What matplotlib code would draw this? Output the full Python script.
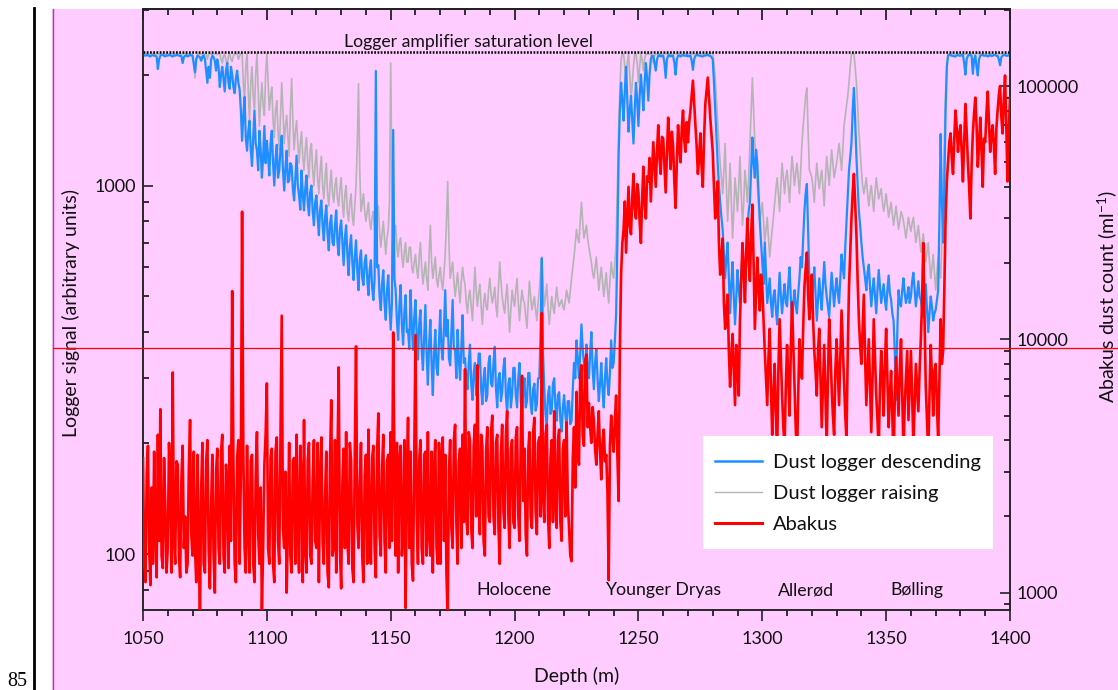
import numpy as np
import matplotlib
matplotlib.use("Agg")
import matplotlib.pyplot as plt
from matplotlib.lines import Line2D
from matplotlib.patches import Rectangle
from matplotlib.ticker import MultipleLocator, LogLocator, NullFormatter, FuncFormatter
import matplotlib.transforms as mtransforms

# ---------------- data ----------------
depth = np.arange(1050, 1400.5, 0.5)   # m, 0.5 m steps (all three series)

logger_descending = [
    2260, 2255, 2250, 2260, 2260, 2245, 2240, 2255, 2260, 2250, 2250, 2240, 2070, 2200, 2250, 2260, 2260, 2250, 2240, 2255,
    2250, 2260, 2260, 2245, 2240, 2255, 2250, 2260, 2260, 2250, 2250, 2245, 2150, 2230, 2250, 2260, 2240, 2250, 2260, 2255,
    2250, 2140, 2030, 2200, 2250, 2240, 2230, 2180, 2240, 2255, 2200, 2050, 1900, 2100, 1960, 2200, 2250, 2230, 2180, 2050,
    2200, 2100, 1850, 2000, 2100, 1950, 1800, 2050, 2150, 1900, 1830, 2100, 2000, 1850, 1780, 1950, 2050, 1900, 1820, 1600,
    1323, 1550, 1740, 1350, 1243, 1400, 1499, 1250, 1130, 1350, 1595, 1300, 1243, 1100, 1408, 1250, 1050, 1200, 1450, 1150,
    1323, 1200, 1065, 1300, 1408, 1150, 1000, 1180, 1290, 1050, 1098, 1250, 1365, 1100, 969, 1120, 1243, 1020, 1031, 1150,
    1130, 980, 911, 1050, 1205, 1000, 940, 860, 1098, 950, 856, 980, 1065, 900, 830, 960, 1000, 850, 780, 900,
    940, 820, 733, 860, 911, 780, 710, 820, 883, 740, 667, 790, 830, 700, 688, 780, 856, 700, 647, 760,
    804, 700, 608, 720, 780, 650, 571, 680, 733, 620, 554, 640, 710, 590, 520, 630, 667, 560, 537, 620,
    647, 560, 504, 590, 627, 530, 489, 560, 2046, 600, 608, 500, 459, 540, 589, 480, 432, 520, 571, 470,
    406, 480, 1415, 560, 520, 430, 381, 470, 537, 420, 370, 450, 504, 400, 406, 360, 520, 420, 358, 440,
    489, 390, 337, 420, 459, 360, 316, 390, 474, 350, 288, 370, 432, 330, 270, 350, 406, 320, 306, 380,
    459, 360, 337, 410, 520, 390, 432, 340, 325, 400, 489, 360, 358, 300, 406, 340, 297, 360, 445, 330,
    340, 300, 280, 330, 370, 290, 262, 310, 330, 270, 295, 350, 350, 280, 255, 300, 320, 260, 270, 330,
    345, 290, 285, 330, 365, 280, 250, 300, 310, 260, 275, 320, 340, 270, 240, 290, 300, 250, 270, 320,
    320, 270, 250, 300, 330, 260, 235, 280, 300, 250, 260, 310, 310, 255, 240, 280, 290, 245, 255, 300,
    300, 400, 635, 350, 280, 240, 225, 270, 285, 240, 245, 290, 300, 250, 230, 270, 275, 230, 215, 250,
    270, 240, 220, 260, 260, 225, 230, 280, 330, 300, 380, 340, 300, 350, 420, 360, 330, 290, 370, 320,
    300, 350, 400, 320, 280, 330, 360, 300, 260, 290, 330, 280, 250, 300, 340, 290, 270, 310, 380, 320,
    330, 380, 450, 700, 1200, 1600, 1900, 1700, 1500, 1800, 2100, 1700, 1400, 1600, 1750, 1500, 1300, 1600, 1900, 1700,
    1450, 1750, 2000, 1800, 1600, 1900, 2150, 1950, 1700, 2000, 2200, 2250, 2250, 2150, 2050, 2200, 2250, 2260, 2240, 2250,
    2250, 2150, 1960, 2200, 2250, 2260, 2240, 2250, 2250, 2150, 2000, 2200, 2250, 2255, 2240, 2250, 2260, 2250, 2250, 2260,
    2240, 2250, 2250, 2180, 2060, 2200, 2250, 2260, 2260, 2250, 2250, 2240, 2240, 2255, 2250, 2260, 2260, 2250, 2250, 2230,
    2200, 1900, 1600, 1350, 1150, 1000, 900, 820, 760, 650, 560, 640, 700, 560, 450, 540, 620, 500, 420, 500,
    590, 520, 480, 580, 640, 560, 500, 620, 760, 850, 900, 1100, 1350, 1150, 1050, 1250, 1150, 950, 800, 700,
    620, 540, 700, 580, 480, 520, 560, 480, 440, 500, 520, 460, 420, 500, 580, 500, 450, 500, 540, 480,
    470, 540, 600, 500, 430, 480, 520, 470, 450, 510, 560, 640, 600, 720, 850, 950, 1010, 750, 560, 500,
    480, 540, 600, 510, 430, 490, 560, 500, 460, 540, 620, 540, 500, 470, 440, 510, 580, 520, 470, 520,
    560, 510, 480, 560, 650, 600, 560, 680, 800, 950, 1100, 1200, 1300, 1600, 1840, 1500, 1200, 1000, 850, 780,
    700, 640, 600, 560, 520, 580, 610, 530, 470, 520, 560, 500, 450, 520, 590, 530, 480, 510, 540, 490,
    460, 520, 570, 510, 490, 450, 430, 350, 262, 400, 520, 480, 470, 520, 560, 510, 480, 500, 530, 480,
    500, 550, 580, 520, 470, 510, 550, 500, 490, 460, 440, 500, 540, 460, 400, 450, 500, 470, 430, 450,
    460, 490, 520, 800, 1380, 900, 700, 1000, 1600, 2100, 2250, 2260, 2260, 2250, 2250, 2240, 2240, 2255, 2260, 2250,
    2250, 2260, 2260, 2150, 2000, 2200, 2250, 2260, 2260, 2250, 2010, 2200, 2250, 2100, 1990, 2200, 2250, 2260, 2260, 2250,
    2250, 2255, 2240, 2250, 2260, 2245, 2250, 2260, 2260, 2250, 2250, 2200, 2120, 2230, 2250, 2260, 2260, 2250, 2250, 2255,
    2260,
]

logger_raising = [
    2280, 2275, 2270, 2280, 2280, 2270, 2275, 2280, 2280, 2275, 2270, 2280, 2280, 2270, 2275, 2280, 2280, 2270, 2270, 2280,
    2280, 2270, 2275, 2280, 2270, 2275, 2280, 2270, 2275, 2280, 2280, 2270, 2270, 2280, 2280, 2275, 2275, 2280, 2280, 2270,
    2270, 2150, 1960, 2200, 2280, 2275, 2270, 2280, 2280, 2270, 2275, 2280, 2200, 2270, 2280, 2275, 2270, 2280, 2280, 2270,
    2270, 2280, 2280, 2200, 2150, 2250, 2270, 2180, 2100, 2250, 2280, 2200, 2170, 2250, 2270, 2280, 2280, 2200, 2250, 2280,
    2280, 1900, 1700, 2100, 2280, 1800, 1500, 1900, 2100, 1750, 1600, 2000, 2280, 1800, 1450, 1700, 1900, 1650, 1550, 2000,
    2280, 1900, 1600, 1750, 1850, 1500, 1350, 1600, 1700, 1400, 1250, 1550, 1900, 1600, 1300, 1450, 1550, 1350, 1200, 1600,
    1950, 1500, 1250, 1400, 1500, 1300, 1150, 1300, 1400, 1200, 1100, 1250, 1350, 1150, 1050, 1250, 1300, 1100, 1000, 1150,
    1250, 1050, 950, 1100, 1200, 1000, 920, 1050, 1150, 950, 880, 1000, 1100, 950, 900, 1000, 1050, 920, 880, 980,
    1050, 900, 820, 950, 1000, 850, 800, 900, 950, 820, 780, 880, 1000, 1300, 1890, 1100, 850, 900, 950, 850,
    800, 850, 900, 800, 760, 820, 850, 760, 700, 800, 880, 750, 680, 740, 800, 720, 650, 720, 760, 900,
    2150, 1000, 700, 740, 780, 680, 640, 700, 720, 640, 600, 660, 700, 620, 620, 680, 680, 600, 580, 620,
    650, 590, 560, 640, 700, 600, 540, 580, 620, 560, 520, 650, 780, 620, 560, 600, 640, 560, 530, 570,
    600, 550, 520, 580, 650, 800, 1025, 700, 560, 590, 620, 550, 500, 540, 580, 520, 480, 550, 600, 560,
    540, 480, 450, 500, 520, 470, 430, 510, 600, 520, 470, 510, 540, 470, 420, 480, 510, 470, 460, 520,
    560, 510, 480, 500, 530, 470, 440, 530, 620, 550, 500, 470, 450, 500, 540, 460, 400, 460, 520, 490,
    470, 520, 560, 480, 430, 480, 520, 490, 480, 440, 410, 480, 550, 500, 460, 480, 500, 460, 430, 480,
    520, 580, 640, 540, 470, 500, 540, 470, 420, 460, 500, 470, 450, 490, 530, 490, 470, 480, 490, 470,
    460, 490, 520, 500, 480, 520, 560, 600, 640, 700, 760, 720, 700, 800, 900, 800, 720, 750, 780, 720,
    680, 650, 620, 580, 560, 600, 640, 580, 520, 560, 600, 550, 500, 540, 580, 520, 480, 550, 620, 580,
    560, 620, 700, 1000, 1400, 1800, 2200, 2280, 2280, 2100, 1900, 2150, 2280, 2000, 1700, 1900, 2100, 2280, 2280, 2150,
    1900, 2100, 2280, 2200, 2050, 2200, 2280, 2275, 2270, 2280, 2280, 2200, 2150, 2250, 2280, 2270, 2270, 2280, 2280, 2275,
    2270, 2280, 2280, 2275, 2275, 2280, 2280, 2270, 2270, 2280, 2280, 2275, 2275, 2280, 2280, 2270, 2270, 2280, 2280, 2275,
    2275, 2280, 2280, 2270, 2270, 2280, 2280, 2275, 2275, 2280, 2280, 2270, 2270, 2280, 2280, 2275, 2275, 2280, 2280, 2280,
    2280, 2150, 1950, 1700, 1500, 1300, 1150, 1050, 950, 1100, 1300, 1000, 800, 950, 1150, 900, 720, 850, 1050, 950,
    850, 1000, 1200, 950, 780, 900, 1100, 1000, 900, 1050, 1300, 1600, 1960, 1600, 1300, 1150, 1000, 900, 800, 850,
    900, 800, 700, 760, 820, 720, 640, 700, 760, 820, 900, 980, 1050, 950, 850, 1000, 1150, 1050, 950, 1050,
    1100, 1000, 900, 1050, 1200, 1100, 1000, 1080, 1150, 1050, 950, 1100, 1300, 1450, 1600, 1750, 1840, 1400, 1100, 1080,
    1050, 980, 900, 1030, 1150, 1050, 980, 1050, 1100, 980, 880, 1050, 1200, 1100, 1000, 1120, 1250, 1150, 1050, 1100,
    1150, 1220, 1300, 1200, 1100, 1250, 1450, 1550, 1650, 1750, 1900, 2100, 2270, 2280, 2280, 2100, 1900, 1650, 1400, 1250,
    1100, 1000, 950, 1000, 1050, 950, 880, 950, 1000, 920, 850, 950, 1050, 980, 920, 950, 980, 900, 850, 900,
    950, 880, 820, 860, 900, 840, 780, 830, 880, 820, 760, 800, 850, 830, 800, 760, 720, 770, 820, 780,
    750, 790, 820, 760, 700, 740, 780, 720, 660, 700, 740, 680, 620, 660, 700, 620, 560, 600, 650, 580,
    520, 580, 640, 600, 560, 700, 900, 1300, 1800, 2100, 2280, 2270, 2270, 2280, 2280, 2275, 2270, 2280, 2280, 2275,
    2275, 2280, 2280, 2270, 2270, 2280, 2280, 2275, 2275, 2280, 2280, 2270, 2270, 2280, 2280, 2275, 2275, 2280, 2280, 2270,
    2270, 2280, 2280, 2275, 2275, 2280, 2280, 2270, 2270, 2280, 2280, 2275, 2275, 2280, 2280, 2270, 2270, 2280, 2280, 2275,
    2275,
]

abakus = [
    3400, 1300, 1100, 2900, 3800, 1500, 1070, 2600, 1300, 3600, 1700, 1150, 4200, 1600, 5300, 1400, 1250, 3400, 2200, 1200,
    1500, 3900, 2900, 1200, 7400, 1600, 1300, 3300, 3200, 1400, 1150, 2800, 3800, 1500, 2000, 1200, 1300, 3100, 4800, 1700,
    1400, 3600, 1500, 1100, 3500, 1600, 800, 2600, 3900, 1300, 1200, 3300, 4000, 1500, 1040, 2200, 3500, 1400, 1000, 3000,
    3700, 1500, 1300, 3600, 4200, 1400, 1200, 3200, 2600, 1250, 3800, 1600, 15500, 3300, 1300, 1100, 3400, 4000, 1300, 2900,
    31900, 3600, 1500, 1200, 3800, 1800, 1200, 3300, 3500, 1300, 1100, 2900, 4300, 1700, 1300, 2600, 850, 1500, 3200, 4200,
    6700, 1500, 1300, 3400, 3700, 1300, 1100, 3600, 4100, 1600, 1300, 4200, 12400, 1800, 1500, 3000, 1000, 1800, 3900, 1400,
    1200, 3300, 3400, 1300, 4200, 1900, 1200, 3800, 2800, 1100, 4800, 1500, 1200, 3300, 3900, 1400, 1300, 2800, 4000, 1600,
    1500, 3900, 1100, 2800, 4100, 1600, 1300, 2400, 3600, 1200, 1050, 3300, 5750, 1400, 1500, 4000, 1200, 3300, 7750, 1500,
    1040, 2700, 3700, 1500, 4300, 1600, 1300, 3900, 3300, 1250, 1100, 3500, 9380, 1900, 1500, 2600, 3900, 1400, 1100, 2900,
    3500, 1300, 4400, 1800, 1300, 3400, 3800, 1500, 1150, 3600, 5100, 1700, 1400, 3100, 4200, 1600, 1200, 3300, 3500, 1500,
    4300, 1600, 10650, 3200, 1400, 3900, 1200, 3300, 3800, 1400, 1700, 4000, 870, 2900, 4900, 1500, 3600, 1300, 1115, 3400,
    10400, 2000, 1300, 3300, 4000, 1500, 1300, 3500, 3600, 1400, 4300, 1700, 1400, 3600, 1200, 3100, 4000, 1500, 1300, 3900,
    1300, 3300, 4100, 1600, 3500, 1200, 780, 3000, 4000, 1800, 1500, 4000, 4600, 1900, 1300, 3300, 3700, 1500, 4200, 1900,
    7620, 2000, 1700, 4300, 4000, 1800, 1500, 3800, 4600, 2000, 7900, 2300, 1700, 4200, 3800, 1600, 1400, 3600, 4500, 2000,
    1900, 4300, 5000, 2000, 1700, 3900, 4200, 1800, 1300, 3600, 4600, 2100, 1800, 4200, 5200, 2000, 1500, 3700, 4000, 1900,
    1800, 4100, 4500, 2000, 1600, 4000, 7180, 2300, 3700, 1700, 1400, 3600, 4300, 2000, 1800, 4300, 4900, 2100, 1700, 3900,
    4100, 2000, 12700, 2400, 1900, 4200, 4600, 2000, 1500, 3400, 4000, 1900, 5200, 2300, 1800, 4000, 4400, 1900, 1600, 3700,
    4000, 2000, 4700, 2300, 1800, 1400, 1330, 3400, 4500, 2600, 6200, 3600, 3200, 7200, 7900, 4200, 3800, 8200, 8700, 4500,
    5600, 4500, 3900, 5400, 4800, 3700, 3200, 4200, 5200, 3600, 2800, 3900, 4400, 3300, 3500, 2500, 1120, 3800, 5000, 4100,
    3600, 4800, 6000, 3500, 2300, 9000, 18000, 24000, 27000, 35000, 22000, 30000, 40000, 28000, 26000, 36000, 45000, 33000, 30000, 41000,
    38000, 29000, 24000, 36000, 48000, 34000, 30000, 44000, 42000, 52000, 35000, 46000, 60000, 49000, 40000, 55000, 70000, 52000, 45000, 63000,
    62000, 48000, 38000, 54000, 75000, 60000, 47000, 66000, 58000, 42000, 33000, 50000, 70000, 57000, 50000, 68000, 80000, 61000, 55000, 72000,
    60000, 72000, 80000, 92000, 105000, 85000, 70000, 58000, 45000, 52000, 65000, 48000, 40000, 62000, 85000, 96000, 108000, 90000, 75000, 64000,
    55000, 40000, 30000, 36000, 42000, 24000, 18000, 21000, 25000, 14000, 11000, 13000, 15000, 9000, 6500, 8500, 10500, 7500, 5500, 9500,
    8000, 6000, 12000, 17000, 24000, 19000, 14000, 22000, 30000, 21000, 17000, 26000, 34000, 20000, 11000, 15000, 21000, 16000, 13000, 18000,
    16000, 12000, 9000, 7000, 5500, 8500, 11000, 6500, 4200, 6000, 8000, 5000, 3500, 7500, 12000, 8500, 6000, 4500, 3800, 6500,
    9500, 7000, 5000, 9000, 14000, 9500, 6500, 4500, 3300, 6000, 10000, 8000, 7000, 11000, 16000, 19000, 22000, 15000, 12000, 14000,
    18000, 12000, 9000, 7500, 6000, 9000, 11000, 7000, 4500, 6500, 9500, 6000, 3800, 7000, 12000, 9000, 6500, 5000, 4200, 7500,
    10000, 7500, 5500, 8500, 13000, 9500, 7000, 5000, 4000, 9000, 16000, 22000, 30000, 38000, 45000, 34000, 26000, 17000, 12000, 9500,
    8000, 11000, 15000, 8500, 5500, 7500, 10000, 6500, 4300, 7000, 12000, 8500, 6000, 4800, 3600, 6500, 9000, 7000, 5000, 8000,
    11000, 7000, 4500, 6000, 7500, 5000, 3300, 6000, 8500, 6500, 5000, 7500, 10000, 6000, 3600, 5500, 7000, 9000, 4800, 6500,
    9000, 6000, 3800, 5500, 8000, 6500, 5200, 7500, 10000, 14000, 24000, 12000, 6500, 4800, 3500, 6000, 9500, 7000, 5000, 7500,
    8000, 5500, 4000, 7000, 12000, 8000, 9000, 16000, 30000, 42000, 50000, 60000, 65000, 52000, 45000, 62000, 80000, 68000, 55000, 64000,
    70000, 55000, 42000, 60000, 85000, 66000, 50000, 40000, 30000, 48000, 65000, 78000, 90000, 70000, 48000, 58000, 75000, 56000, 40000, 62000,
    60000, 78000, 95000, 72000, 55000, 64000, 70000, 58000, 45000, 68000, 80000, 92000, 100000, 76000, 65000, 88000, 110000, 70000, 42000, 66000,
    90000,
]

series_labels = ["Dust logger descending", "Dust logger raising", "Abakus"]
period_names = ["Holocene", "Younger Dryas", "Allerød", "Bølling"]
period_centers = [1199.8, 1260.0, 1317.6, 1362.3]
saturation_level = 2300
reference_level = 362
saturation_text = "Logger amplifier saturation level"

# ---------------- style ----------------
plt.rcParams['font.family'] = ['Lato', 'DejaVu Sans']
plt.rcParams['mathtext.fontset'] = 'custom'
plt.rcParams['mathtext.rm'] = 'Lato'
plt.rcParams['mathtext.default'] = 'regular'

W, H = 1118, 690
PINK = '#FFCCFF'
BLUE = '#1E8FFF'
GRAY = '#B4B4B4'
RED = '#FF0000'
TXT = '#111111'

fig = plt.figure(figsize=(W / 100, H / 100), dpi=100)
fig.patch.set_facecolor('white')
fig.add_artist(Rectangle((52 / W, 0), 1 - 52 / W, (H - 9) / H, transform=fig.transFigure,
                         facecolor=PINK, edgecolor='none', zorder=-10))
fig.add_artist(Line2D([52.5 / W, 52.5 / W], [0, (H - 9) / H], transform=fig.transFigure,
                      color='#A040B0', lw=1.0, zorder=-9))
fig.add_artist(Line2D([34 / W, 34 / W], [0, (H - 8) / H], transform=fig.transFigure,
                      color='black', lw=2.0, zorder=-9))
fig.text(17 / W, 1 - 681 / H, '85', family=['Liberation Serif', 'DejaVu Serif'], fontsize=14.5,
         ha='center', va='center', color='black')

ax = fig.add_axes([143 / W, 1 - 610 / H, 867 / W, 601 / H])
ax.patch.set_alpha(0)
ax2 = ax.twinx()
ax2.patch.set_alpha(0)

ax.plot(depth, logger_raising, color=GRAY, lw=1.2, zorder=2)
ax.plot(depth, logger_descending, color=BLUE, lw=1.6, zorder=3)
ax2.plot(depth, abakus, color=RED, lw=1.9, zorder=3)

ax.axhline(saturation_level, color='black', lw=1.8, ls=(0, (0.7, 0.6)), zorder=4)

ax.set_yscale('log')
ax2.set_yscale('log')
ax.set_xlim(1050, 1400)
ax.set_ylim(70.5, 3013)
ax2.set_ylim(854, 201400)

# x ticks
ax.set_xticks(range(1050, 1401, 50))
ax.xaxis.set_minor_locator(MultipleLocator(10))
ax.tick_params(axis='x', which='major', direction='out', length=8, width=1.1,
               labelsize=13, pad=7, colors=TXT, top=False)
ax.tick_params(axis='x', which='minor', direction='out', length=4.3, width=1.1, top=False)
top = ax.secondary_xaxis('top')
top.set_xticks(range(1050, 1401, 50))
top.xaxis.set_minor_locator(MultipleLocator(10))
top.tick_params(axis='x', which='major', direction='in', length=8, width=1.1, labeltop=False)
top.tick_params(axis='x', which='minor', direction='in', length=4.3, width=1.1)
top.spines['top'].set_linewidth(1.1)

fmt = FuncFormatter(lambda v, p: f"{int(round(v))}")
for a in (ax, ax2):
    a.yaxis.set_major_locator(LogLocator(base=10))
    a.yaxis.set_minor_locator(LogLocator(base=10, subs=np.arange(2, 10)))
    a.yaxis.set_major_formatter(fmt)
    a.yaxis.set_minor_formatter(NullFormatter())
    a.tick_params(axis='y', which='major', direction='in', length=7.5, width=1.1,
                  labelsize=13, pad=5, colors=TXT)
    a.tick_params(axis='y', which='minor', direction='in', length=4, width=1.1)
ax.tick_params(axis='y', which='both', left=True, right=False)
ax2.tick_params(axis='y', which='both', left=False, right=True)
for a in (ax, ax2):
    for s in a.spines.values():
        s.set_linewidth(1.1)
        s.set_color('#222222')

# labels
ax.set_xlabel('Depth (m)', fontsize=14, color=TXT)
ax.xaxis.set_label_coords(0.5, -0.11)
ax.xaxis.label.set_verticalalignment('center')
ax.set_ylabel('Logger signal (arbitrary units)', fontsize=14, color=TXT)
ax.yaxis.set_label_coords(-0.083, 0.494)
ax.yaxis.label.set_verticalalignment('center')
ax2.set_ylabel('Abakus dust count (ml$^{-1}$)', fontsize=14, color=TXT)
ax2.yaxis.set_label_coords(1.112, 0.5225)
ax2.yaxis.label.set_verticalalignment('center')

# annotations
trans = mtransforms.blended_transform_factory(ax.transData, ax.transAxes)
for name, xc in zip(period_names, period_centers):
    ax2.text(xc, 0.033, name, transform=trans, ha='center', va='center', fontsize=12.8, color=TXT)
ax2.text(1181.2, 0.9445, saturation_text, transform=trans, ha='center', va='center',
         fontsize=12.7, color=TXT)

# reference line across the page
fig.add_artist(Line2D([52.5 / W, 1], [1 - 348 / H, 1 - 348 / H], transform=fig.transFigure,
                      color='red', lw=0.9, zorder=5))

# legend with a white box behind it
x0, x1 = (703 - 143) / 867, (993 - 143) / 867
y0, y1 = (610 - 549) / 601, (610 - 436) / 601
ax2.add_patch(Rectangle((x0, y0), x1 - x0, y1 - y0, transform=ax2.transAxes,
                        facecolor='white', edgecolor='none', zorder=9))
handles = [Line2D([], [], color=BLUE, lw=1.8),
           Line2D([], [], color=GRAY, lw=1.0),
           Line2D([], [], color=RED, lw=2.2)]
leg = ax2.legend(handles, series_labels, loc='center',
                 bbox_to_anchor=((x0 + x1) / 2, (y0 + y1) / 2 - 0.002),
                 borderaxespad=0, frameon=False, fontsize=14.5, handlelength=2.33,
                 borderpad=0, labelspacing=0.7, handletextpad=0.55)
leg.set_zorder(10)
for t in leg.get_texts():
    t.set_color(TXT)

fig.savefig('out.png', dpi=100, facecolor=fig.get_facecolor())
